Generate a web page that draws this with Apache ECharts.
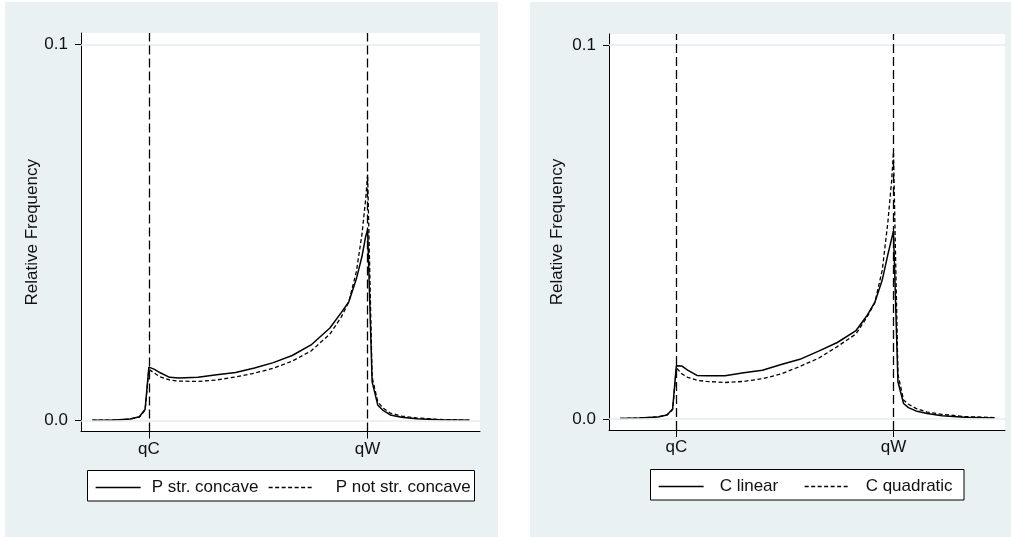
<!DOCTYPE html>
<html>
<head>
<meta charset="utf-8">
<script src="https://cdn.jsdelivr.net/npm/echarts@6/dist/echarts.min.js"></script>
<style>
  html, body { margin: 0; padding: 0; background: #ffffff; }
  #chart { width: 1011px; height: 537px; }
</style>
</head>
<body>
<div id="chart"></div>
<script>
// Position along the quantity axis (qC at 15, qW at 73)
const xGrid = [0, 5, 10, 12.5, 14, 15, 16.5, 18, 20.5, 23, 28, 33, 38, 43, 48, 53, 58, 63, 66, 68, 70, 71.5, 72.5, 73, 74.2, 75.7, 77, 79, 82, 86, 92, 100];

// Left panel: relative frequencies
const pStrConcave = [0.0001, 0.0001, 0.0004, 0.0010, 0.0030, 0.0142, 0.0136, 0.0127, 0.0115, 0.0113, 0.0115, 0.0122, 0.0128, 0.0140, 0.0154, 0.0173, 0.0201, 0.0246, 0.0287, 0.0315, 0.0376, 0.0436, 0.0490, 0.0507, 0.0103, 0.0041, 0.0028, 0.0015, 0.0009, 0.0005, 0.0002, 0.0001];
const pNotStrConcave = [0.0001, 0.0001, 0.0004, 0.0010, 0.0028, 0.0136, 0.0126, 0.0116, 0.0108, 0.0105, 0.0104, 0.0108, 0.0116, 0.0126, 0.0139, 0.0158, 0.0185, 0.0230, 0.0275, 0.0315, 0.0395, 0.0495, 0.0590, 0.0654, 0.0115, 0.0050, 0.0034, 0.0020, 0.0012, 0.0007, 0.0003, 0.0001];

// Right panel: relative frequencies
const cLinear = [0.0002, 0.0003, 0.0006, 0.0011, 0.0027, 0.0143, 0.0142, 0.0131, 0.0117, 0.0116, 0.0116, 0.0124, 0.0131, 0.0146, 0.0160, 0.0182, 0.0205, 0.0237, 0.0278, 0.0312, 0.0372, 0.0440, 0.0482, 0.0503, 0.0100, 0.0042, 0.0031, 0.0022, 0.0015, 0.0009, 0.0005, 0.0003];
const cQuadratic = [0.0002, 0.0003, 0.0006, 0.0011, 0.0025, 0.0137, 0.0121, 0.0112, 0.0104, 0.0101, 0.0098, 0.0101, 0.0108, 0.0121, 0.0141, 0.0163, 0.0194, 0.0228, 0.0274, 0.0311, 0.0398, 0.0526, 0.0636, 0.0714, 0.0120, 0.0051, 0.0040, 0.0029, 0.0019, 0.0013, 0.0007, 0.0004];

// Axis ticks
const xTickValues = [15, 73];
const xTickLabels = ['qC', 'qW'];
const yTickValues = [0, 0.1];
const yTitle = 'Relative Frequency';

const FONT = '"Liberation Sans", Arial, Helvetica, sans-serif';
const INK = '#000000';
const PANEL_BG = '#EAF1F3';
const GRID_LINE = '#E2ECEF';

const zip = (ys) => xGrid.map((x, i) => [x, ys[i]]);

function xAxisFor(gridIndex) {
  return {
    gridIndex, type: 'value', min: -3, max: 102.8,
    axisLine: { show: true, onZero: false, lineStyle: { color: INK, width: 1 } },
    splitLine: { show: false },
    axisTick: { show: true, customValues: xTickValues, length: 7, lineStyle: { color: INK, width: 1 } },
    axisLabel: {
      customValues: xTickValues, margin: 9, fontSize: 17, fontFamily: FONT, color: '#111',
      formatter: (v) => xTickLabels[xTickValues.indexOf(v)] ?? ''
    }
  };
}

function yAxisFor(gridIndex, nameGap) {
  return {
    gridIndex, type: 'value', min: -0.0029, max: 0.1030,
    name: yTitle, nameLocation: 'middle', nameGap,
    nameTextStyle: { fontSize: 17, fontFamily: FONT, color: '#111' },
    axisLine: { show: true, onZero: false, lineStyle: { color: INK, width: 1 } },
    splitLine: { show: false },
    axisTick: { show: true, customValues: yTickValues, length: 6, lineStyle: { color: INK, width: 1 } },
    axisLabel: {
      customValues: yTickValues, margin: 13, fontSize: 17, fontFamily: FONT, color: '#111',
      formatter: (v) => v.toFixed(1)
    }
  };
}

const refLines = {
  silent: true, symbol: ['none', 'none'], label: { show: false },
  lineStyle: { color: INK, width: 1.3, type: [9, 4] },
  emphasis: { disabled: true },
  data: xTickValues.map(v => ({ xAxis: v }))
};
const gridLines = {
  silent: true, symbol: ['none', 'none'], label: { show: false },
  lineStyle: { color: GRID_LINE, width: 1.5, type: 'solid' },
  emphasis: { disabled: true },
  data: yTickValues.map(v => ({ yAxis: v }))
};

function curve(name, ys, idx, dashed, extra) {
  return Object.assign({
    name, type: 'line', xAxisIndex: idx, yAxisIndex: idx,
    data: zip(ys), symbol: 'none', showSymbol: false, smooth: false, silent: true,
    lineStyle: dashed ? { color: INK, width: 1.3, type: [4, 2.5] } : { color: INK, width: 1.5, type: 'solid' },
    itemStyle: { color: INK }
  }, extra || {});
}

function legendAt(name, left, top, gap) {
  return {
    data: [name], left, top, padding: 0, itemWidth: 45, itemHeight: 14,
    selectedMode: false,
    itemStyle: { opacity: 0 },
    lineStyle: { width: 1.3 },
    textStyle: { fontSize: 17, fontFamily: FONT, color: '#111', padding: [0, 0, 0, gap] }
  };
}

const option = {
  animation: false,
  backgroundColor: '#ffffff',
  graphic: [
    { type: 'rect', z: -10, shape: { x: 5, y: 2, width: 493, height: 535 }, style: { fill: PANEL_BG } },
    { type: 'rect', z: -10, shape: { x: 530, y: 2, width: 481, height: 535 }, style: { fill: PANEL_BG } },
    { type: 'rect', z: -9, shape: { x: 81, y: 33, width: 399, height: 398.5 }, style: { fill: '#ffffff' } },
    { type: 'rect', z: -9, shape: { x: 609, y: 34, width: 396, height: 396 }, style: { fill: '#ffffff' } },
    { type: 'rect', z: -8, shape: { x: 87.5, y: 470.5, width: 387, height: 30.5 }, style: { fill: '#ffffff', stroke: INK, lineWidth: 1 } },
    { type: 'rect', z: -8, shape: { x: 650.5, y: 469.5, width: 313.5, height: 30.5 }, style: { fill: '#ffffff', stroke: INK, lineWidth: 1 } }
  ],
  grid: [
    { left: 81, top: 33, width: 399, height: 398.5, show: false },
    { left: 609, top: 34, width: 396, height: 396, show: false }
  ],
  xAxis: [xAxisFor(0), xAxisFor(1)],
  yAxis: [yAxisFor(0, 39), yAxisFor(1, 43)],
  legend: [
    legendAt('P str. concave', 95, 479, 6),
    legendAt('P not str. concave', 268, 479, 17),
    legendAt('C linear', 658, 478, 11),
    legendAt('C quadratic', 804, 478, 11)
  ],
  series: [
    curve('P not str. concave', pNotStrConcave, 0, true, { markLine: gridLines }),
    curve('P str. concave', pStrConcave, 0, false, { markLine: refLines }),
    curve('C quadratic', cQuadratic, 1, true, { markLine: gridLines }),
    curve('C linear', cLinear, 1, false, { markLine: refLines })
  ]
};

const chart = echarts.init(document.getElementById('chart'), null, { renderer: 'canvas' });
chart.setOption(option);
</script>
</body>
</html>
